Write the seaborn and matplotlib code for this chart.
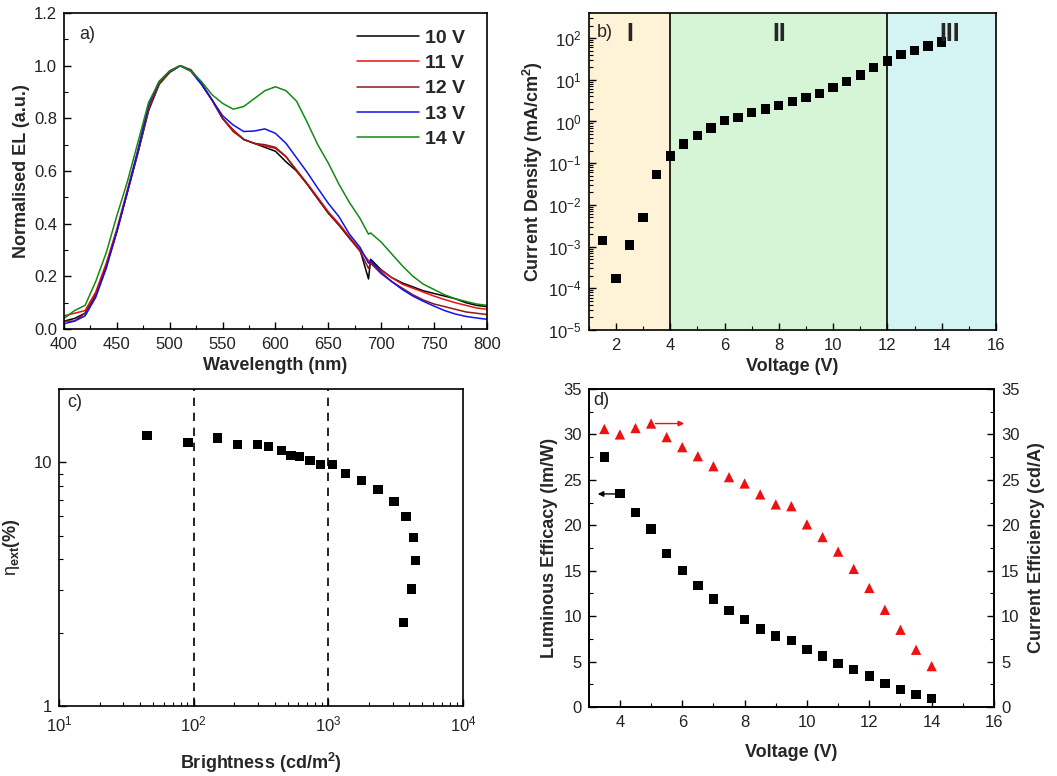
import numpy as np
import pandas as pd
import matplotlib
matplotlib.use("Agg")
import matplotlib.pyplot as plt
import matplotlib.ticker as mticker
import seaborn as sns

# ---- panel a: EL spectra ----
wavelength = [400, 410, 420, 430, 440, 450, 460, 470, 480, 490, 500, 510, 520, 530, 540,
              550, 560, 570, 580, 590, 600, 610, 620, 630, 640, 650, 660, 670, 680, 688,
              690, 700, 710, 720, 730, 740, 750, 760, 770, 780, 790, 800]
el_10v = [0.03, 0.04, 0.06, 0.13, 0.24, 0.37, 0.52, 0.67, 0.83, 0.93, 0.975, 1.00, 0.98, 0.93, 0.87,
          0.80, 0.755, 0.72, 0.705, 0.69, 0.675, 0.635, 0.60, 0.55, 0.495, 0.44, 0.395, 0.345, 0.30, 0.19,
          0.265, 0.225, 0.195, 0.175, 0.16, 0.145, 0.135, 0.125, 0.115, 0.10, 0.09, 0.085]
el_11v = [0.05, 0.06, 0.07, 0.14, 0.25, 0.38, 0.53, 0.68, 0.84, 0.93, 0.98, 1.00, 0.98, 0.93, 0.87,
          0.80, 0.756, 0.72, 0.705, 0.695, 0.686, 0.654, 0.604, 0.553, 0.50, 0.445, 0.40, 0.35, 0.30, 0.26,
          0.255, 0.222, 0.195, 0.17, 0.155, 0.14, 0.125, 0.112, 0.10, 0.09, 0.08, 0.075]
el_12v = [0.03, 0.03, 0.06, 0.13, 0.24, 0.37, 0.52, 0.67, 0.83, 0.93, 0.975, 1.00, 0.985, 0.935, 0.87,
          0.80, 0.75, 0.72, 0.705, 0.70, 0.69, 0.655, 0.60, 0.55, 0.495, 0.44, 0.395, 0.345, 0.295, 0.23,
          0.25, 0.21, 0.18, 0.155, 0.13, 0.11, 0.095, 0.085, 0.075, 0.065, 0.06, 0.055]
el_13v = [0.02, 0.03, 0.05, 0.12, 0.23, 0.37, 0.52, 0.68, 0.85, 0.94, 0.98, 1.00, 0.98, 0.93, 0.87,
          0.81, 0.775, 0.75, 0.752, 0.76, 0.743, 0.705, 0.65, 0.595, 0.535, 0.477, 0.427, 0.36, 0.31, 0.25,
          0.26, 0.215, 0.18, 0.15, 0.125, 0.105, 0.087, 0.07, 0.057, 0.048, 0.042, 0.037]
el_14v = [0.04, 0.07, 0.09, 0.18, 0.29, 0.43, 0.56, 0.71, 0.86, 0.94, 0.98, 1.00, 0.98, 0.94, 0.89,
          0.857, 0.835, 0.845, 0.875, 0.905, 0.92, 0.905, 0.865, 0.785, 0.70, 0.63, 0.55, 0.48, 0.42, 0.36,
          0.365, 0.33, 0.285, 0.24, 0.20, 0.17, 0.15, 0.13, 0.115, 0.105, 0.095, 0.09]
voltage_labels = ["10 V", "11 V", "12 V", "13 V", "14 V"]
line_colors = ["black", "#ee1111", "#8b1a1a", "#1111ee", "#138a13"]

# ---- panel b: J-V ----
jv_voltage = [1.5, 2.0, 2.5, 3.0, 3.5, 4.0, 4.5, 5.0, 5.5, 6.0, 6.5, 7.0, 7.5, 8.0, 8.5,
              9.0, 9.5, 10.0, 10.5, 11.0, 11.5, 12.0, 12.5, 13.0, 13.5, 14.0]
current_density = [1.4e-3, 1.7e-4, 1.1e-3, 5e-3, 5.3e-2, 0.15, 0.29, 0.47, 0.7, 1.05, 1.25, 1.65, 2.0, 2.4, 3.0,
                   3.7, 4.7, 6.5, 9.2, 13, 20, 28, 40, 50, 65, 80]

# ---- panel c: EQE vs brightness ----
brightness = [45, 91, 151, 211, 298, 360, 450, 527, 612, 730, 877, 1070, 1344, 1766, 2334,
              3069, 3770, 4268, 4418, 4153, 3597]
eqe = [12.9, 12.1, 12.6, 11.8, 11.8, 11.6, 11.2, 10.7, 10.6, 10.2, 9.78, 9.78, 9.0, 8.43, 7.72,
       6.89, 5.98, 4.91, 3.96, 3.02, 2.2]

# ---- panel d: efficacy / efficiency ----
eff_voltage = [3.5, 4.0, 4.5, 5.0, 5.5, 6.0, 6.5, 7.0, 7.5, 8.0, 8.5, 9.0, 9.5, 10.0, 10.5,
               11.0, 11.5, 12.0, 12.5, 13.0, 13.5, 14.0]
luminous_efficacy = [27.5, 23.5, 21.4, 19.6, 16.9, 15.0, 13.4, 11.9, 10.6, 9.6, 8.6, 7.8, 7.3, 6.3, 5.6,
                     4.8, 4.1, 3.4, 2.6, 1.9, 1.4, 0.9]
current_efficiency = [30.6, 30.0, 30.7, 31.2, 29.7, 28.6, 27.6, 26.5, 25.3, 24.6, 23.4, 22.3, 22.1, 20.1, 18.7,
                      17.1, 15.2, 13.1, 10.7, 8.5, 6.3, 4.5]

sns.set_style("ticks")
plt.rcParams["font.family"] = ["Liberation Sans", "DejaVu Sans"]
plt.rcParams["mathtext.fontset"] = "custom"
plt.rcParams["mathtext.rm"] = "Liberation Sans"
plt.rcParams["mathtext.bf"] = "Liberation Sans:bold"
plt.rcParams["xtick.direction"] = "in"
plt.rcParams["ytick.direction"] = "in"
plt.rcParams["axes.edgecolor"] = "black"
plt.rcParams["axes.linewidth"] = 1.2

TICK_FS = 12
LABEL_FS = 13

fig = plt.figure(figsize=(10.57, 7.76), dpi=100)
ax_a = fig.add_axes([0.0605, 0.576, 0.4002, 0.4072])
ax_b = fig.add_axes([0.557, 0.5747, 0.3853, 0.4085])
ax_c = fig.add_axes([0.0558, 0.0902, 0.3822, 0.4085])
ax_d = fig.add_axes([0.557, 0.0889, 0.3834, 0.4098])


def style_ticks(ax, right=False):
    ax.tick_params(which="major", length=5, width=1, labelsize=TICK_FS, color="black", labelcolor="#222222")
    ax.tick_params(axis="x", which="major", pad=6)
    ax.tick_params(axis="y", which="major", pad=5)
    ax.tick_params(which="minor", length=3, width=0.8, color="black")
    ax.tick_params(right=right, top=False)


# panel a
spectra = pd.DataFrame({
    "Wavelength": wavelength * 5,
    "EL": el_10v + el_11v + el_12v + el_13v + el_14v,
    "Voltage": [v for v in voltage_labels for _ in wavelength],
})
sns.lineplot(data=spectra, x="Wavelength", y="EL", hue="Voltage", palette=dict(zip(voltage_labels, line_colors)),
             linewidth=1.1, ax=ax_a, sort=False)
ax_a.set_xlim(400, 800)
ax_a.set_ylim(0, 1.2)
ax_a.xaxis.set_major_locator(mticker.MultipleLocator(50))
ax_a.xaxis.set_minor_locator(mticker.MultipleLocator(25))
ax_a.yaxis.set_major_locator(mticker.MultipleLocator(0.2))
ax_a.yaxis.set_minor_locator(mticker.MultipleLocator(0.1))
ax_a.yaxis.set_major_formatter(mticker.FormatStrFormatter("%.1f"))
ax_a.set_xlabel("Wavelength (nm)", fontsize=LABEL_FS, fontweight="bold", labelpad=3)
ax_a.set_ylabel("Normalised EL (a.u.)", fontsize=LABEL_FS, fontweight="bold", labelpad=3)
ax_a.text(0.035, 0.96, "a)", transform=ax_a.transAxes, fontsize=13, va="top")
leg = ax_a.legend(loc="upper right", bbox_to_anchor=(0.99, 1.005), frameon=False, title=None,
                  prop={"weight": "bold", "size": 14}, handlelength=3.2, labelspacing=0.4, handletextpad=0.3)
style_ticks(ax_a)

# panel b
ax_b.axvspan(1, 4, color="#fef3d6", zorder=0)
ax_b.axvspan(4, 12, color="#d6f5d6", zorder=0)
ax_b.axvspan(12, 16, color="#d4f4f4", zorder=0)
ax_b.axvline(4, color="black", lw=1.2)
ax_b.axvline(12, color="black", lw=1.2)
sns.scatterplot(x=jv_voltage, y=current_density, marker="s", s=45, color="black", edgecolor="none", ax=ax_b, zorder=3)
ax_b.set_yscale("log")
ax_b.set_xlim(1, 16)
ax_b.set_ylim(1e-5, 10 ** 2.6)
ax_b.xaxis.set_major_locator(mticker.MultipleLocator(2))
ax_b.xaxis.set_minor_locator(mticker.MultipleLocator(1))
ax_b.yaxis.set_major_locator(mticker.LogLocator(base=10, numticks=20))
ax_b.yaxis.set_minor_locator(mticker.LogLocator(base=10, subs=np.arange(2, 10), numticks=20))
ax_b.yaxis.set_minor_formatter(mticker.NullFormatter())
ax_b.set_xlabel("Voltage (V)", fontsize=LABEL_FS, fontweight="bold", labelpad=3)
ax_b.set_ylabel(r"Current Density (mA/cm$^\mathbf{2}$)", fontsize=LABEL_FS, fontweight="bold", labelpad=2)
ax_b.text(0.02, 0.965, "b)", transform=ax_b.transAxes, fontsize=13, va="top")
for label, xpos in [("I", 2.5), ("II", 8), ("III", 14.3)]:
    ax_b.text(xpos, 10 ** 1.8, label, fontsize=18, fontweight="bold", ha="center", va="bottom")
style_ticks(ax_b)

# panel c
ax_c.axvline(100, color="black", ls=(0, (5, 4)), lw=1.2)
ax_c.axvline(1000, color="black", ls=(0, (5, 4)), lw=1.2)
sns.scatterplot(x=brightness, y=eqe, marker="s", s=45, color="black", edgecolor="none", ax=ax_c, zorder=3)
ax_c.set_xscale("log")
ax_c.set_yscale("log")
ax_c.set_xlim(10, 1e4)
ax_c.set_ylim(1, 20)
ax_c.xaxis.set_major_locator(mticker.LogLocator(base=10, numticks=10))
ax_c.xaxis.set_minor_locator(mticker.LogLocator(base=10, subs=np.arange(2, 10), numticks=10))
ax_c.xaxis.set_minor_formatter(mticker.NullFormatter())
ax_c.set_yticks([1, 10])
ax_c.set_yticklabels(["1", "10"])
ax_c.yaxis.set_minor_locator(mticker.LogLocator(base=10, subs=np.arange(2, 10), numticks=10))
ax_c.yaxis.set_minor_formatter(mticker.NullFormatter())
ax_c.set_xlabel(r"Brightness (cd/m$^\mathbf{2}$)", fontsize=LABEL_FS, fontweight="bold", labelpad=12)
ax_c.set_ylabel(r"$\mathrm{\eta}_{\mathbf{ext}}$(%)", fontsize=LABEL_FS, fontweight="bold", labelpad=8)
ax_c.text(0.02, 0.985, "c)", transform=ax_c.transAxes, fontsize=13, va="top")
style_ticks(ax_c)

# panel d
ax_d2 = ax_d.twinx()
sns.scatterplot(x=eff_voltage, y=luminous_efficacy, marker="s", s=45, color="black", edgecolor="none", ax=ax_d, zorder=3)
sns.scatterplot(x=eff_voltage, y=current_efficiency, marker="^", s=55, color="#ee1111", edgecolor="none", ax=ax_d2, zorder=3)
for ax in (ax_d, ax_d2):
    ax.set_ylim(0, 35)
    ax.yaxis.set_major_locator(mticker.MultipleLocator(5))
    ax.yaxis.set_minor_locator(mticker.MultipleLocator(2.5))
ax_d.set_xlim(3, 16)
ax_d.xaxis.set_major_locator(mticker.MultipleLocator(2))
ax_d.xaxis.set_minor_locator(mticker.MultipleLocator(1))
ax_d.annotate("", xy=(3.2, 23.45), xytext=(3.95, 23.45),
              arrowprops=dict(arrowstyle="-|>", color="black", lw=1, mutation_scale=8))
ax_d2.annotate("", xy=(6.15, 31.2), xytext=(5.05, 31.2),
               arrowprops=dict(arrowstyle="-|>", color="#ee1111", lw=1, mutation_scale=8))
ax_d.set_xlabel("Voltage (V)", fontsize=LABEL_FS, fontweight="bold", labelpad=10)
ax_d.set_ylabel("Luminous Efficacy (lm/W)", fontsize=LABEL_FS, fontweight="bold", labelpad=4)
ax_d2.set_ylabel("Current Efficiency (cd/A)", fontsize=LABEL_FS, fontweight="bold", labelpad=6)
ax_d.text(0.012, 0.99, "d)", transform=ax_d.transAxes, fontsize=13, va="top")
style_ticks(ax_d)
style_ticks(ax_d2, right=True)
ax_d2.tick_params(left=False)

for ax in (ax_a, ax_b, ax_c, ax_d, ax_d2):
    for sp in ax.spines.values():
        sp.set_visible(True)
        sp.set_color("black")

fig.savefig("out.png", dpi=100)
